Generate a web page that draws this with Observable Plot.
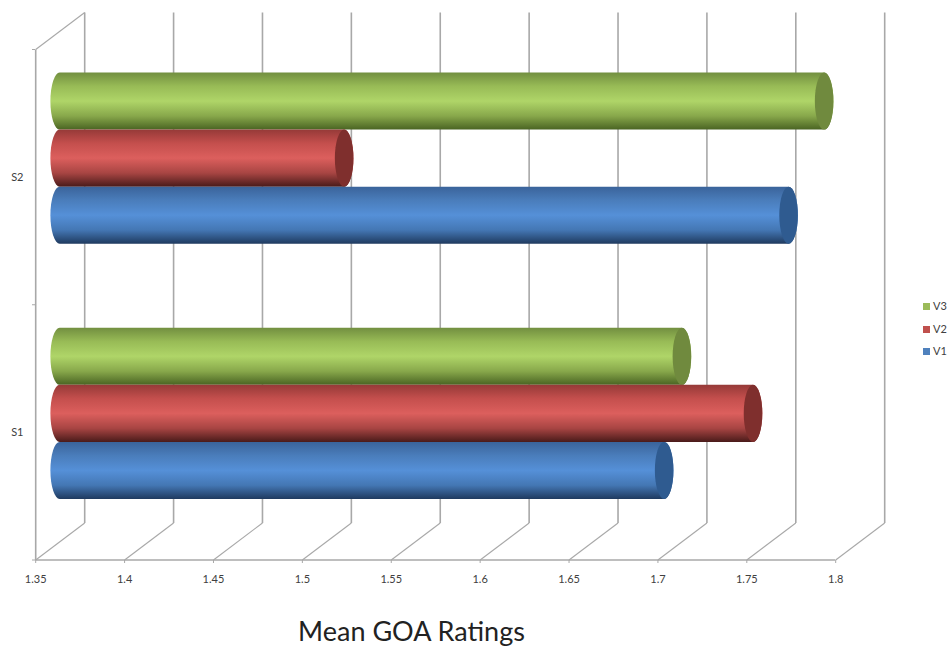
<!DOCTYPE html>
<html>
<head>
<meta charset="utf-8">
<script src="https://cdn.jsdelivr.net/npm/d3@7"></script>
<script src="https://cdn.jsdelivr.net/npm/@observablehq/plot@0.6"></script>
<style>
  html, body { margin: 0; background: #fff; }
  #chart { position: relative; width: 947px; height: 646px; overflow: hidden; font-family: Lato, sans-serif; }
  #chart svg { display: block; }
  #title { position: absolute; left: 0; top: 613px; width: 823px; text-align: center; font-size: 27px; line-height: 36px; color: #222; }
  .key { position: absolute; left: 923px; font-size: 11px; line-height: 12px; color: #404040; display: flex; align-items: center; gap: 3px; }
  .key i { display: block; width: 7px; height: 7px; }
</style>
</head>
<body>
<div id="chart"></div>
<script>
// Mean ratings per group, one array per series
const groups = ["S1", "S2"];
const seriesNames = ["V1", "V2", "V3"];
const valuesV1 = [1.69, 1.76];
const valuesV2 = [1.74, 1.51];
const valuesV3 = [1.70, 1.78];
const xTicks = [1.35, 1.4, 1.45, 1.5, 1.55, 1.6, 1.65, 1.7, 1.75, 1.8];
const titleText = "Mean GOA Ratings";

// Series colours: gradient stops for the cylinder body, and the flat end cap
const palette = {
  V1: {key: "#4f81bd", cap: "#2f5b90", stops: ["#3a639a", "#4a7dbb", "#5590d8", "#4477b4", "#1f3a5f"]},
  V2: {key: "#c0504d", cap: "#7f2f2d", stops: ["#963a38", "#c44f4d", "#dc5f5d", "#a84543", "#4a1b1a"]},
  V3: {key: "#9bbb59", cap: "#708a3e", stops: ["#728f40", "#98bb56", "#afd568", "#88a84b", "#4a6423"]}
};
const stopOffsets = [0, 0.24, 0.5, 0.76, 1];

// Oblique projection of the box, in scale units
const base = 1.35;
const depthX = 0.02756;
const depthY = 0.145;
const barSpan = 0.2235;
const capRx = 9.3;
const capRy = 28.5;

const seriesValues = {V1: valuesV1, V2: valuesV2, V3: valuesV3};
const seriesOffset = {V1: -barSpan, V2: 0, V3: barSpan};
const gridColor = "#a8a8a8";

const rows = seriesNames.flatMap((s) =>
  groups.map((g, i) => {
    const mid = i + 0.5 + depthY / 2 + seriesOffset[s];
    return {series: s, group: g, value: seriesValues[s][i], y1: mid - barSpan / 2, y2: mid + barSpan / 2};
  })
);

// Gradients referenced by the cylinder bodies
const gradients = () => {
  const defs = d3.create("svg:defs");
  for (const s of seriesNames) {
    const g = defs.append("linearGradient").attr("id", `body-${s}`).attr("x1", 0).attr("x2", 0).attr("y1", 0).attr("y2", 1);
    palette[s].stops.forEach((c, k) => g.append("stop").attr("offset", stopOffsets[k]).attr("stop-color", c));
  }
  return defs.node();
};

// Bodies and caps, back series first
const cylinders = ["V3", "V2", "V1"].flatMap((s) => {
  const data = rows.filter((d) => d.series === s);
  const shape = {y1: "y1", y2: "y2", insetLeft: -capRx, insetRight: -capRx, rx: capRx, ry: capRy};
  return [
    Plot.rect(data, {...shape, x1: () => base + depthX / 2, x2: (d) => d.value + depthX / 2, fill: `url(#body-${s})`}),
    Plot.rect(data, {...shape, x1: (d) => d.value + depthX / 2, x2: (d) => d.value + depthX / 2, fill: palette[s].cap})
  ];
});

const plot = Plot.plot({
  width: 947,
  height: 600,
  marginLeft: 35,
  marginRight: 112,
  marginTop: 0,
  marginBottom: 40,
  style: {fontFamily: "Lato, sans-serif", background: "#fff", overflow: "visible"},
  x: {domain: [base, 1.8], range: [35.2, 835.2], axis: null},
  y: {domain: [0, 2], range: [559.5, 49], axis: null},
  marks: [
    gradients,
    // back wall verticals
    Plot.link(xTicks, {x1: (d) => d + depthX, x2: (d) => d + depthX, y1: depthY, y2: 2 + depthY, stroke: gridColor, strokeWidth: 1.6}),
    // floor diagonals
    Plot.link(xTicks, {x1: (d) => d, x2: (d) => d + depthX, y1: 0, y2: depthY, stroke: gridColor, strokeWidth: 1.1}),
    // left wall and its top edge
    Plot.link([base], {x1: (d) => d, x2: (d) => d, y1: 0, y2: 2, stroke: gridColor, strokeWidth: 1.6}),
    Plot.link([base], {x1: (d) => d, x2: (d) => d + depthX, y1: 2, y2: 2 + depthY, stroke: gridColor, strokeWidth: 1.1}),
    // front floor edge
    Plot.ruleY([0], {x1: base, x2: 1.8, stroke: gridColor, strokeWidth: 1.3}),
    Plot.axisX({
      ticks: xTicks, tickSize: 3, tickPadding: 12, tickFormat: (d) => String(d),
      label: null, anchor: "bottom", stroke: gridColor, color: "#404040", fill: "#404040", fontSize: 11
    }),
    Plot.axisY({
      ticks: [0, 1, 2], tickSize: 3, tickFormat: () => "", label: null, anchor: "left", stroke: gridColor
    }),
    Plot.axisY({
      ticks: [0.5, 1.5], tickSize: 0, tickPadding: 12, tickFormat: (d) => groups[Math.floor(d)],
      label: null, anchor: "left", fill: "#404040", fontSize: 11
    }),
    ...cylinders
  ]
});

const chart = document.getElementById("chart");
chart.append(plot);

const title = document.createElement("div");
title.id = "title";
title.textContent = titleText;
chart.append(title);

// Legend, top to bottom
[["V3", 300], ["V2", 323], ["V1", 345]].forEach(([s, top]) => {
  const row = document.createElement("div");
  row.className = "key";
  row.style.top = top + "px";
  const swatch = document.createElement("i");
  swatch.style.background = palette[s].key;
  row.append(swatch, s);
  chart.append(row);
});
</script>
</body>
</html>
